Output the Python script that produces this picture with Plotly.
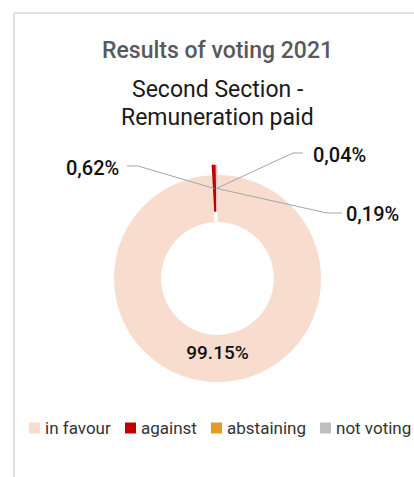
import plotly.graph_objects as go
import math

# ---- data ----
labels = ["in favour", "against", "abstaining", "not voting"]
values = [99.15, 0.62, 0.04, 0.19]
value_text = ["99.15%", "0,62%", "0,04%", "0,19%"]
colors = ["#F8DDCF", "#C00000", "#E39A26", "#BFBFBF"]
title_lines = ["Results of voting 2021", "Second Section -", "Remuneration paid"]

# ---- layout helpers (pixel -> paper) ----
W, H = 414, 477
def fx(x):
    return x / W
def fy(y):
    return 1 - y / H

FONT = "Roboto"
PULL = 0.1
cx, cy, r_out = 217.5, 278.5, 103.5
box = r_out * (1 + PULL)

fig = go.Figure()
fig.add_trace(go.Pie(
    labels=labels,
    values=values,
    text=value_text,
    textinfo="text",
    textposition=["inside", "none", "none", "none"],
    insidetextorientation="horizontal",
    insidetextfont=dict(family=FONT, size=19, color="#111111", weight=500),
    marker=dict(colors=colors, line=dict(width=0)),
    hole=0.545,
    pull=[0, PULL, PULL, PULL],
    sort=False,
    direction="clockwise",
    rotation=0,
    showlegend=False,
    hoverinfo="label+text",
    domain=dict(x=[fx(cx - box), fx(cx + box)], y=[fy(cy + box), fy(cy - box)]),
))

shapes = []
annotations = []

# frame lines
shapes.append(dict(type="line", xref="paper", yref="paper", x0=fx(14), x1=fx(14), y0=fy(13), y1=0,
                   line=dict(color="#E0E0E0", width=2)))
shapes.append(dict(type="line", xref="paper", yref="paper", x0=fx(14), x1=1, y0=fy(13), y1=fy(13),
                   line=dict(color="#E0E0E0", width=2)))

# title
title_y = [51, 90, 118]
title_styles = [dict(color="#595959", weight=500, size=23),
                dict(color="#1a1a1a", weight=400, size=23),
                dict(color="#1a1a1a", weight=400, size=23)]
for txt, yy, st in zip(title_lines, title_y, title_styles):
    annotations.append(dict(text=txt, x=fx(217), y=fy(yy), xref="paper", yref="paper",
                            xanchor="center", yanchor="middle", showarrow=False,
                            font=dict(family=FONT, size=st["size"], color=st["color"], weight=st["weight"])))

# leader lines + labels for small slices
total = sum(values)
cum = 0
mid_angles = []
for v in values:
    mid_angles.append((cum + v / 2) / total * 2 * math.pi)
    cum += v
anchor_r = 90
label_pos = {1: dict(lx=92, ly=168, elbow=(138, 166), end=(127, 166)),
             2: dict(lx=339, ly=155, elbow=(293, 153), end=(303, 153)),
             3: dict(lx=372, ly=214, elbow=(327, 213), end=(342, 213))}
for i, p in label_pos.items():
    ax = cx + anchor_r * math.sin(mid_angles[i])
    ay = cy - anchor_r * math.cos(mid_angles[i])
    path = "M {} {} L {} {} L {} {}".format(fx(ax), fy(ay), fx(p["elbow"][0]), fy(p["elbow"][1]),
                                            fx(p["end"][0]), fy(p["end"][1]))
    shapes.append(dict(type="path", xref="paper", yref="paper", path=path,
                       line=dict(color="#A6A6A6", width=1)))
    annotations.append(dict(text=value_text[i], x=fx(p["lx"]), y=fy(p["ly"]), xref="paper", yref="paper",
                            xanchor="center", yanchor="middle", showarrow=False,
                            font=dict(family=FONT, size=20, color="#111111", weight=500)))

# custom legend
legend_x = [29, 125, 211, 320]
legend_y = 428
sw = 11
for lab, col, lx in zip(labels, colors, legend_x):
    shapes.append(dict(type="rect", xref="paper", yref="paper",
                       x0=fx(lx), x1=fx(lx + sw), y0=fy(legend_y + sw / 2), y1=fy(legend_y - sw / 2),
                       fillcolor=col, line=dict(width=0)))
    annotations.append(dict(text=lab, x=fx(lx + sw + 3), y=fy(legend_y), xref="paper", yref="paper",
                            xanchor="left", yanchor="middle", showarrow=False,
                            font=dict(family=FONT, size=17, color="#333333")))

fig.update_layout(
    width=W, height=H,
    margin=dict(l=0, r=0, t=0, b=0),
    paper_bgcolor="white",
    plot_bgcolor="white",
    shapes=shapes,
    annotations=annotations,
    font=dict(family=FONT),
)

fig.write_html("out.html")
